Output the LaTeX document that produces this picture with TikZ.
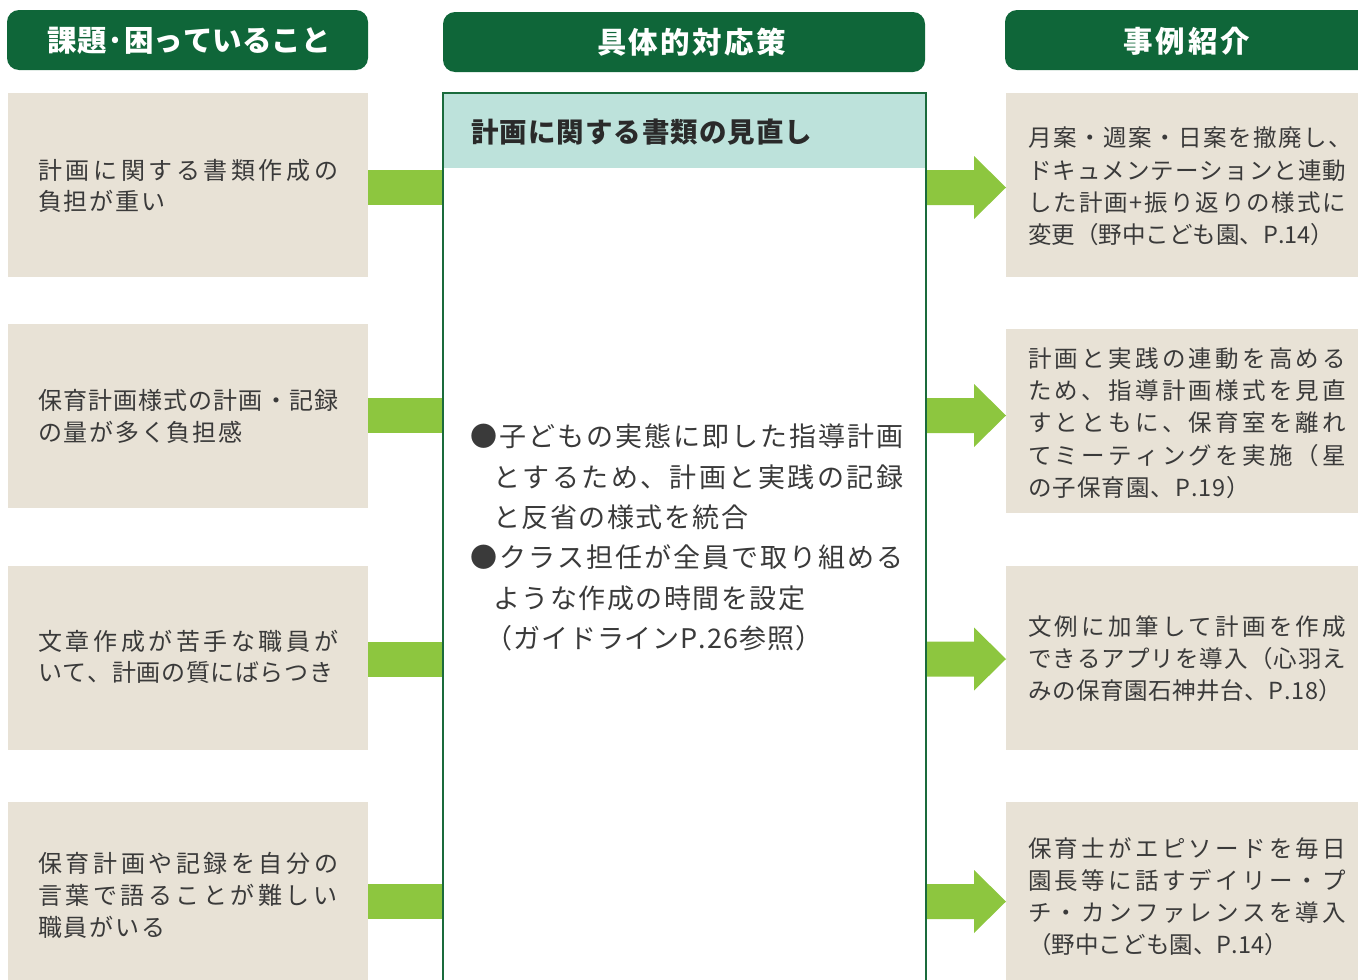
\documentclass[tikz,border=0pt]{standalone}
\usepackage{fontspec}
\usetikzlibrary{calc}
\newfontfamily\jp{Noto Sans CJK JP}
\definecolor{hdrgreen}{HTML}{0F6639}
\definecolor{boxbeige}{HTML}{E8E2D6}
\definecolor{bargreen}{HTML}{8DC63F}
\definecolor{tealband}{HTML}{BDE2DB}
\definecolor{borderg}{HTML}{1A6B3C}
\definecolor{txtgray}{HTML}{3A3A3A}
\definecolor{titletxt}{HTML}{2A2A2A}
% spread the characters of #2 evenly over a box of width #1
\newcommand\jlend{JLEND}
\def\jlA#1#2\jlend{#1\jlB#2\jlend}
\def\jlB#1{\ifx\jlend#1\else\hfil#1\expandafter\jlB\fi}
\newcommand\jspread[2]{\hbox to #1{\jlA#2\jlend}}
\tikzset{
  hdrbox/.style={fill=hdrgreen, rounded corners=12pt, minimum height=60pt, inner sep=0pt, outer sep=0pt},
  hdrtxt/.style={text=white, inner sep=0pt, font=\jp\bfseries\fontsize{29.5}{34}\selectfont},
  lbox/.style={fill=boxbeige, minimum width=360pt, minimum height=184pt, inner sep=0pt, outer sep=0pt},
  ltxt/.style={anchor=base west, inner sep=0pt, text=txtgray, font=\jp\fontsize{24}{28}\selectfont},
  rtxt/.style={anchor=base west, inner sep=0pt, text=txtgray, font=\jp\fontsize{23.5}{27}\selectfont},
  ctxt/.style={anchor=base west, inner sep=0pt, text=txtgray, font=\jp\fontsize{27}{31}\selectfont},
  bar/.style={fill=bargreen},
}
\begin{document}
\begin{tikzpicture}[x=1pt,y=-1pt]
\useasboundingbox (0,0) rectangle (1358,980);
\clip (0,0) rectangle (1358,980);
% headers
\node[hdrbox, minimum width=361pt] (h1) at (187.5,40) {};
\node[hdrbox, minimum width=482pt] (h2) at (684,42) {};
\node[hdrbox, minimum width=365pt] (h3) at (1187.5,40) {};
\node[hdrtxt] (h1t) at (188,41) {\jspread{281pt}{課題·困っていること}};
\node[hdrtxt] (h2t) at (691.5,42) {\jspread{189pt}{具体的対応策}};
\node[hdrtxt] (h3t) at (1186.5,41) {\jspread{127pt}{事例紹介}};
% left boxes
\node[lbox] (lb1) at (188,185) {};
\node[lbox] (lb2) at (188,416) {};
\node[lbox] (lb3) at (188,658) {};
\node[lbox] (lb4) at (188,894) {};
% right boxes
\node[lbox] (rb1) at (1186,185) {};
\node[lbox] (rb2) at (1186,421) {};
\node[lbox] (rb3) at (1186,658) {};
\node[lbox] (rb4) at (1186,894) {};
% center box
\node[minimum width=483pt, minimum height=910pt, inner sep=0pt, outer sep=0pt] (cbox) at (684.5,548) {};
\fill[tealband] (cbox.north west) rectangle ($(cbox.north east)+(0,75)$);
\coordinate (r1) at (0,187.5);
\coordinate (r2) at (0,415.5);
\coordinate (r3) at (0,659);
\coordinate (r4) at (0,901.5);
\foreach \i in {1,2,3,4}{
  \fill[bar] ($(lb\i.east |- r\i)+(0,-17.5)$) rectangle ($(cbox.west |- r\i)+(0,17.5)$);
  \fill[bar] ($(cbox.east |- r\i)+(0,-17.5)$) -- ($(rb\i.west |- r\i)+(-32,-17.5)$)
     -- ($(rb\i.west |- r\i)+(-32,-31.5)$) -- (rb\i.west |- r\i)
     -- ($(rb\i.west |- r\i)+(-32,31.5)$) -- ($(rb\i.west |- r\i)+(-32,17.5)$)
     -- ($(cbox.east |- r\i)+(0,17.5)$) -- cycle;
}
\draw[borderg, line width=2.5pt] (cbox.north west) rectangle (cbox.south east);
% center title
\node[anchor=base west, inner sep=0pt, text=titletxt, font=\jp\bfseries\fontsize{27.5}{32}\selectfont] (ctitle) at (471,142.5) {\jspread{341pt}{計画に関する書類の見直し}};
% center text
\node[ctxt] (c1) at (470,446) {\jspread{433pt}{●子どもの実態に即した指導計画}};
\node[ctxt] (c2) at (493,487) {\jspread{410pt}{とするため、計画と実践の記録}};
\node[ctxt] (c3) at (493,527) {\jspread{255pt}{と反省の様式を統合}};
\node[ctxt] (c4) at (470,567) {\jspread{433pt}{●クラス担任が全員で取り組める}};
\node[ctxt] (c5) at (493,608) {\jspread{312pt}{ような作成の時間を設定}};
\node[ctxt] (c6) at (485,648) {\jspread{337pt}{（ガイドラインP.26参照）}};
% left texts
\node[ltxt] (l1a) at (38,179) {\jspread{300pt}{計画に関する書類作成の}};
\node[ltxt] (l1b) at (38,210) {\jspread{127pt}{負担が重い}};
\node[ltxt] (l2a) at (38,409) {\jspread{300pt}{保育計画様式の計画・記録}};
\node[ltxt] (l2b) at (38,441) {\jspread{204pt}{の量が多く負担感}};
\node[ltxt] (l3a) at (38,650) {\jspread{300pt}{文章作成が苦手な職員が}};
\node[ltxt] (l3b) at (38,681) {\jspread{295pt}{いて、計画の質にばらつき}};
\node[ltxt] (l4a) at (38,872) {\jspread{300pt}{保育計画や記録を自分の}};
\node[ltxt] (l4b) at (38,904) {\jspread{299pt}{言葉で語ることが難しい}};
\node[ltxt] (l4c) at (38,936) {\jspread{127pt}{職員がいる}};
% right texts
\node[rtxt] (r1a) at (1028,146) {\jspread{324pt}{月案・週案・日案を撤廃し、}};
\node[rtxt] (r1b) at (1028,179) {\jspread{318pt}{ドキュメンテーションと連動}};
\node[rtxt] (r1c) at (1028,211) {\jspread{318pt}{した計画+振り返りの様式に}};
\node[rtxt] (r1d) at (1028,243) {\jspread{300pt}{変更（野中こども園、P.14）}};
\node[rtxt] (r2a) at (1028,367) {\jspread{318pt}{計画と実践の連動を高める}};
\node[rtxt] (r2b) at (1028,399) {\jspread{318pt}{ため、指導計画様式を見直}};
\node[rtxt] (r2c) at (1028,431) {\jspread{318pt}{すとともに、保育室を離れ}};
\node[rtxt] (r2d) at (1028,464) {\jspread{318pt}{てミーティングを実施（星}};
\node[rtxt] (r2e) at (1028,496) {\jspread{222pt}{の子保育園、P.19）}};
\node[rtxt] (r3a) at (1028,635) {\jspread{318pt}{文例に加筆して計画を作成}};
\node[rtxt] (r3b) at (1028,667) {\jspread{318pt}{できるアプリを導入（心羽え}};
\node[rtxt] (r3c) at (1028,699) {\jspread{314pt}{みの保育園石神井台、P.18）}};
\node[rtxt] (r4a) at (1028,857) {\jspread{318pt}{保育士がエピソードを毎日}};
\node[rtxt] (r4b) at (1028,889) {\jspread{318pt}{園長等に話すデイリー・プ}};
\node[rtxt] (r4c) at (1028,921) {\jspread{318pt}{チ・カンファレンスを導入}};
\node[rtxt] (r4d) at (1028,953) {\jspread{260pt}{（野中こども園、P.14）}};
\end{tikzpicture}
\end{document}
